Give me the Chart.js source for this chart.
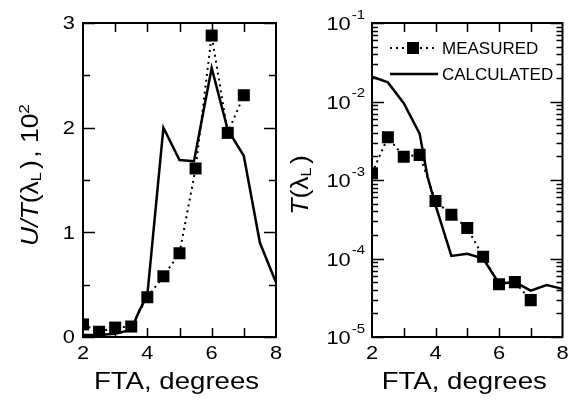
<!DOCTYPE html>
<html>
<head>
<meta charset="utf-8">
<script src="https://cdn.jsdelivr.net/npm/chart.js@4.4.1/dist/chart.umd.min.js"></script>
<style>
html, body { margin: 0; padding: 0; background: #fff; }
#wrap { position: relative; width: 571px; height: 416px; overflow: hidden; }
#left { position: absolute; left: 0; top: 0; }
#right { position: absolute; left: 290px; top: 0; }
</style>
</head>
<body>
<div id="wrap">
  <canvas id="left" width="290" height="416"></canvas>
  <canvas id="right" width="281" height="416"></canvas>
</div>
<script>
// measured points (both panels share the same angles)
const ftaMeasured = [2, 2.5, 3, 3.5, 4, 4.5, 5, 5.5, 6, 6.5, 7];
const ratioMeasured = [0.12, 0.05, 0.09, 0.10, 0.38, 0.58, 0.80, 1.61, 2.88, 1.95, 2.31];
const transMeasured = [1.22e-3, 3.5e-3, 1.98e-3, 2.09e-3, 5.4e-4, 3.6e-4, 2.45e-4, 1.05e-4, 4.7e-5, 5.0e-5, 2.95e-5];

// calculated curves
const ftaCalcLeft = [2, 2.5, 3, 3.5, 3.75, 4, 4.5, 5, 5.45, 6, 6.5, 7, 7.5, 8];
const ratioCalc = [0.02, 0.02, 0.03, 0.07, 0.25, 0.40, 2.00, 1.69, 1.68, 2.57, 1.98, 1.73, 0.90, 0.52];
const ftaCalcRight = [2, 2.5, 3, 3.5, 3.75, 4, 4.5, 5, 5.5, 6, 6.5, 7, 7.5, 8];
const transCalc = [2.07e-2, 1.75e-2, 9.5e-3, 3.9e-3, 1.1e-3, 4.8e-4, 1.08e-4, 1.15e-4, 1.0e-4, 4.8e-5, 5.0e-5, 3.9e-5, 4.6e-5, 4.1e-5];

// axis ticks
const xTickLabels = [2, 4, 6, 8];
const xTickMarks = [3, 4, 5, 6, 7];
const ratioTickLabels = [0, 1, 2, 3];
const ratioMinorTicks = [0.5, 1.5, 2.5];
const transExponents = [-1, -2, -3, -4, -5];
const legendLabels = ['MEASURED', 'CALCULATED'];

const FONT = '"Liberation Sans", Arial, sans-serif';
const SX = 1.15; // the scanned figure is a bit wider than plain Arial

function pairs(xs, ys) {
    return xs.map((x, i) => ({ x: x, y: ys[i] }));
}

function wideText(ctx, str, x, y, font, align, baseline) {
    ctx.save();
    ctx.font = font;
    ctx.textAlign = align || 'left';
    ctx.textBaseline = baseline || 'alphabetic';
    ctx.translate(x, y);
    ctx.scale(SX, 1);
    ctx.fillText(str, 0, 0);
    ctx.restore();
}

// rotated title made of pieces (italic letters, sub and superscripts)
function rotatedTitle(ctx, pieces, cx, cy) {
    ctx.save();
    ctx.translate(cx, cy);
    ctx.rotate(-Math.PI / 2);
    ctx.scale(SX, 1);
    ctx.textBaseline = 'alphabetic';
    ctx.textAlign = 'left';
    let total = 0;
    pieces.forEach(p => { ctx.font = p.font; total += ctx.measureText(p.t).width + (p.gap || 0); });
    let u = -total / 2;
    pieces.forEach(p => {
        ctx.font = p.font;
        ctx.fillText(p.t, u, p.dv || 0);
        u += ctx.measureText(p.t).width + (p.gap || 0);
    });
    ctx.restore();
}

function frameAndXAxis(chart) {
    const ctx = chart.ctx;
    const a = chart.chartArea;
    const xs = chart.scales.x;
    ctx.save();
    ctx.strokeStyle = '#000';
    ctx.fillStyle = '#000';
    ctx.lineWidth = 2;
    ctx.strokeRect(a.left, a.top, a.right - a.left, a.bottom - a.top);
    ctx.lineWidth = 1.5;
    ctx.beginPath();
    xTickMarks.forEach(v => {
        const px = Math.round(xs.getPixelForValue(v)) + 0.5;
        ctx.moveTo(px, a.bottom); ctx.lineTo(px, a.bottom - 9);
        ctx.moveTo(px, a.top); ctx.lineTo(px, a.top + 9);
    });
    ctx.stroke();
    xTickLabels.forEach(v => {
        wideText(ctx, String(v), xs.getPixelForValue(v), 354, '19px ' + FONT, 'center', 'middle');
    });
    wideText(ctx, 'FTA, degrees', (a.left + a.right) / 2 - 3, 382, '24px ' + FONT, 'center', 'middle');
    ctx.restore();
}

function yTick(ctx, a, py, len) {
    ctx.moveTo(a.left, py); ctx.lineTo(a.left + len, py);
    ctx.moveTo(a.right, py); ctx.lineTo(a.right - len, py);
}

const leftDecor = {
    id: 'leftDecor',
    afterDraw(chart) {
        const ctx = chart.ctx;
        const a = chart.chartArea;
        const ys = chart.scales.y;
        frameAndXAxis(chart);
        ctx.save();
        ctx.strokeStyle = '#000';
        ctx.fillStyle = '#000';
        ctx.lineWidth = 1.5;
        ctx.beginPath();
        ratioTickLabels.forEach(v => yTick(ctx, a, Math.round(ys.getPixelForValue(v)) + 0.5, 12));
        ratioMinorTicks.forEach(v => yTick(ctx, a, Math.round(ys.getPixelForValue(v)) + 0.5, 7));
        ctx.stroke();
        ratioTickLabels.forEach(v => {
            wideText(ctx, String(v), 75, ys.getPixelForValue(v) + 1, '19px ' + FONT, 'right', 'middle');
        });
        rotatedTitle(ctx, [
            { t: 'U/T', font: 'italic 23px ' + FONT },
            { t: '(', font: '23px ' + FONT },
            { t: 'λ', font: '23px ' + FONT },
            { t: 'L', font: '14px ' + FONT, dv: 3, gap: 3 },
            { t: ')', font: '23px ' + FONT, gap: 2 },
            { t: ',', font: '23px ' + FONT },
            { t: ' 10', font: '23px ' + FONT },
            { t: '2', font: '15px ' + FONT, dv: -9 }
        ], 38, 175);
        ctx.restore();
    }
};

const rightDecor = {
    id: 'rightDecor',
    afterDraw(chart) {
        const ctx = chart.ctx;
        const a = chart.chartArea;
        const ys = chart.scales.y;
        frameAndXAxis(chart);
        ctx.save();
        ctx.strokeStyle = '#000';
        ctx.fillStyle = '#000';
        ctx.lineWidth = 1.5;
        ctx.beginPath();
        transExponents.forEach(e => {
            yTick(ctx, a, Math.round(ys.getPixelForValue(Math.pow(10, e))) + 0.5, 12);
            if (e > -5) {
                for (let k = 2; k <= 9; k++) {
                    yTick(ctx, a, Math.round(ys.getPixelForValue(k * Math.pow(10, e - 1))) + 0.5, 6);
                }
            }
        });
        ctx.stroke();
        transExponents.forEach(e => {
            const py = ys.getPixelForValue(Math.pow(10, e));
            const exp = String(e);
            ctx.font = '13px ' + FONT;
            const ew = ctx.measureText(exp).width * SX;
            wideText(ctx, exp, 75 - ew, py - 8, '13px ' + FONT, 'left', 'middle');
            wideText(ctx, '10', 75 - ew - 1, py + 2, '19px ' + FONT, 'right', 'middle');
        });
        rotatedTitle(ctx, [
            { t: 'T', font: 'italic 23px ' + FONT },
            { t: '(', font: '23px ' + FONT },
            { t: 'λ', font: '23px ' + FONT },
            { t: 'L', font: '14px ' + FONT, dv: 3, gap: 3 },
            { t: ')', font: '23px ' + FONT }
        ], 18, 185);

        // legend inside the plot
        ctx.lineWidth = 2;
        ctx.setLineDash([2, 4]);
        ctx.beginPath();
        ctx.moveTo(100, 48); ctx.lineTo(148, 48);
        ctx.stroke();
        ctx.setLineDash([]);
        ctx.fillRect(117, 42, 12, 12);
        ctx.lineWidth = 2.5;
        ctx.beginPath();
        ctx.moveTo(100, 74); ctx.lineTo(148, 74);
        ctx.stroke();
        ctx.font = '17px ' + FONT;
        ctx.textAlign = 'left';
        ctx.textBaseline = 'middle';
        ctx.fillText(legendLabels[0], 152, 49);
        ctx.fillText(legendLabels[1], 152, 75);
        ctx.restore();
    }
};

function makeConfig(calcX, calcY, measY, yScale, yAxisWidth, padRight, plugin) {
    return {
        type: 'line',
        data: {
            datasets: [
                {
                    label: legendLabels[0],
                    data: pairs(ftaMeasured, measY),
                    borderColor: '#000',
                    borderWidth: 2,
                    borderDash: [2, 4],
                    pointStyle: 'rect',
                    pointRadius: 8.5,
                    pointBorderWidth: 0,
                    pointBackgroundColor: '#000',
                    order: 0
                },
                {
                    label: legendLabels[1],
                    data: pairs(calcX, calcY),
                    borderColor: '#000',
                    borderWidth: 2.5,
                    pointRadius: 0,
                    tension: 0,
                    order: 1
                }
            ]
        },
        options: {
            responsive: false,
            animation: false,
            events: [],
            layout: { padding: { left: 0, top: 23, right: padRight, bottom: 0 } },
            plugins: { legend: { display: false }, tooltip: { enabled: false } },
            scales: {
                x: {
                    type: 'linear',
                    min: 2,
                    max: 8,
                    grid: { display: false },
                    border: { display: false },
                    ticks: { display: false, stepSize: 1 },
                    afterFit(s) { s.height = 79; }
                },
                y: Object.assign({
                    grid: { display: false },
                    border: { display: false },
                    ticks: { display: false },
                    afterFit(s) { s.width = yAxisWidth; }
                }, yScale)
            }
        },
        plugins: [plugin]
    };
}

new Chart(document.getElementById('left'),
    makeConfig(ftaCalcLeft, ratioCalc, ratioMeasured,
        { type: 'linear', min: 0, max: 3 }, 83, 14, leftDecor));

new Chart(document.getElementById('right'),
    makeConfig(ftaCalcRight, transCalc, transMeasured,
        { type: 'logarithmic', min: 1e-5, max: 1e-1 }, 82, 7, rightDecor));
</script>
</body>
</html>
